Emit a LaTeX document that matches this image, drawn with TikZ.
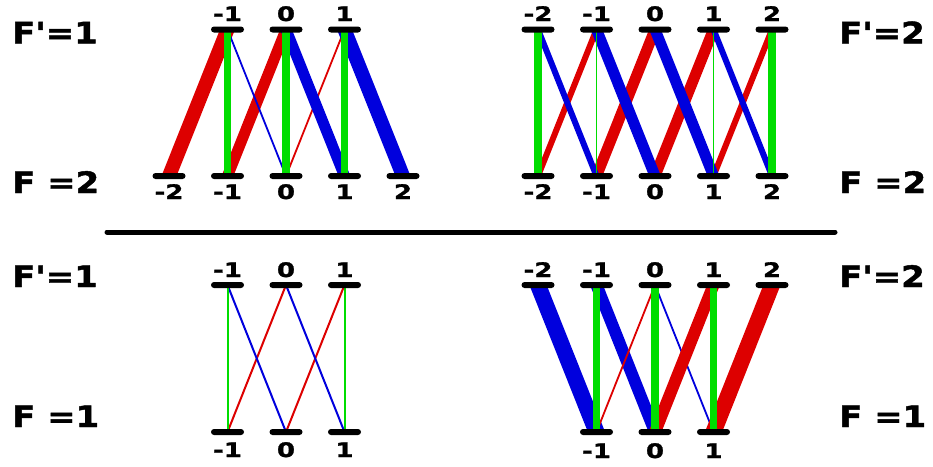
\documentclass[tikz,border=0pt]{standalone}
\usepackage{fontspec}
\newfontfamily\lblfont[Ligatures=TeXOff,FakeStretch=1.15,FakeBold=1.5]{DejaVu Sans}
\newfontfamily\numfont[Ligatures=TeXOff,FakeStretch=1.3,FakeBold=1.5]{DejaVu Sans}
\definecolor{redline}{RGB}{221,0,0}
\definecolor{blueline}{RGB}{0,0,221}
\definecolor{greenline}{RGB}{0,221,0}
\tikzset{
  lvl/.style={fill=black, rounded corners=3pt, minimum width=33pt, minimum height=6pt, inner sep=0pt},
  sigp/.style={draw=redline},
  sigm/.style={draw=blueline},
  pilink/.style={draw=greenline},
  mlbl/.style={font=\numfont\bfseries\fontsize{20}{20}\selectfont, anchor=base, inner sep=0pt},
  flbl/.style={font=\lblfont\bfseries\fontsize{29.5}{30}\selectfont, anchor=base west, inner sep=0pt}
}

\begin{document}
\begin{tikzpicture}[x=1pt, y=-1pt]
\useasboundingbox (0,0) rectangle (933,466);

% Level positions (u = upper F', l = lower F)
\foreach \m in {-1,0,1} \coordinate (TLu\m) at ({286+58.5*\m},29.5);
\foreach \m in {-2,...,2} \coordinate (TLl\m) at ({286+58.5*\m},176);
\foreach \m in {-2,...,2} \coordinate (TRu\m) at ({655+58.5*\m},29.5);
\foreach \m in {-2,...,2} \coordinate (TRl\m) at ({655+58.5*\m},176);
\foreach \m in {-1,0,1} \coordinate (BLu\m) at ({286+58.5*\m},285);
\foreach \m in {-1,0,1} \coordinate (BLl\m) at ({286+58.5*\m},432);
\foreach \m in {-2,...,2} \coordinate (BRu\m) at ({655+58.5*\m},285);
\foreach \m in {-1,0,1} \coordinate (BRl\m) at ({655+58.5*\m},432);

% F=2 -> F'=1
\draw[sigp, line width=14pt] (TLu-1) -- (TLl-2);
\draw[sigp, line width=11pt] (TLu0) -- (TLl-1);
\draw[sigp, line width=1.8pt] (TLu1) -- (TLl0);
\draw[sigm, line width=1.8pt] (TLu-1) -- (TLl0);
\draw[sigm, line width=11pt] (TLu0) -- (TLl1);
\draw[sigm, line width=14pt] (TLu1) -- (TLl2);
\draw[pilink, line width=7pt] (TLu-1) -- (TLl-1);
\draw[pilink, line width=8.5pt] (TLu0) -- (TLl0);
\draw[pilink, line width=7pt] (TLu1) -- (TLl1);

% F=2 -> F'=2
\draw[sigp, line width=6pt] (TRu-1) -- (TRl-2);
\draw[sigp, line width=11pt] (TRu0) -- (TRl-1);
\draw[sigp, line width=11pt] (TRu1) -- (TRl0);
\draw[sigp, line width=6pt] (TRu2) -- (TRl1);
\draw[sigm, line width=6pt] (TRu-2) -- (TRl-1);
\draw[sigm, line width=11pt] (TRu-1) -- (TRl0);
\draw[sigm, line width=11pt] (TRu0) -- (TRl1);
\draw[sigm, line width=6pt] (TRu1) -- (TRl2);
\draw[pilink, line width=8.5pt] (TRu-2) -- (TRl-2);
\draw[pilink, line width=1.5pt] (TRu-1) -- (TRl-1);
\draw[pilink, line width=1.5pt] (TRu1) -- (TRl1);
\draw[pilink, line width=8.5pt] (TRu2) -- (TRl2);

% F=1 -> F'=1
\draw[sigp, line width=2pt] (BLu0) -- (BLl-1);
\draw[sigp, line width=2pt] (BLu1) -- (BLl0);
\draw[sigm, line width=2pt] (BLu-1) -- (BLl0);
\draw[sigm, line width=2pt] (BLu0) -- (BLl1);
\draw[pilink, line width=2pt] (BLu-1) -- (BLl-1);
\draw[pilink, line width=2pt] (BLu1) -- (BLl1);

% F=1 -> F'=2
\draw[sigm, line width=16pt] (BRu-2) -- (BRl-1);
\draw[sigm, line width=12pt] (BRu-1) -- (BRl0);
\draw[sigm, line width=1.8pt] (BRu0) -- (BRl1);
\draw[sigp, line width=1.8pt] (BRu0) -- (BRl-1);
\draw[sigp, line width=12pt] (BRu1) -- (BRl0);
\draw[sigp, line width=16pt] (BRu2) -- (BRl1);
\draw[pilink, line width=6.5pt] (BRu-1) -- (BRl-1);
\draw[pilink, line width=8.5pt] (BRu0) -- (BRl0);
\draw[pilink, line width=6.5pt] (BRu1) -- (BRl1);

% Levels and m labels
\foreach \m in {-1,0,1} {
  \node[lvl] (TLbu\m) at (TLu\m) {};
  \node[mlbl] (TLmu\m) at ({286+58.5*\m},21) {\m};
  \node[lvl] (BLbu\m) at (BLu\m) {};
  \node[mlbl] (BLmu\m) at ({286+58.5*\m},277) {\m};
  \node[lvl] (BLbl\m) at (BLl\m) {};
  \node[mlbl] (BLml\m) at ({286+58.5*\m},457) {\m};
  \node[lvl] (BRbl\m) at (BRl\m) {};
  \node[mlbl] (BRml\m) at ({655+58.5*\m},458) {\m};
}
\foreach \m in {-2,...,2} {
  \node[lvl] (TLbl\m) at (TLl\m) {};
  \node[mlbl] (TLml\m) at ({286+58.5*\m},199) {\m};
  \node[lvl] (TRbu\m) at (TRu\m) {};
  \node[mlbl] (TRmu\m) at ({655+58.5*\m},21) {\m};
  \node[lvl] (TRbl\m) at (TRl\m) {};
  \node[mlbl] (TRml\m) at ({655+58.5*\m},199) {\m};
  \node[lvl] (BRbu\m) at (BRu\m) {};
  \node[mlbl] (BRmu\m) at ({655+58.5*\m},277) {\m};
}

% Separator
\draw[line width=5pt, line cap=round] (107,232) -- (835,232);

% F labels
\node[flbl] (TLup) at (12,43.3) {F'=1};
\node[flbl] (TLlo) at (12,193) {F =2};
\node[flbl] (BLup) at (12,287) {F'=1};
\node[flbl] (BLlo) at (12,427) {F =1};
\node[flbl] (TRup) at (839,43.3) {F'=2};
\node[flbl] (TRlo) at (839,193) {F =2};
\node[flbl] (BRup) at (839,287) {F'=2};
\node[flbl] (BRlo) at (839,427) {F =1};
\end{tikzpicture}
\end{document}
